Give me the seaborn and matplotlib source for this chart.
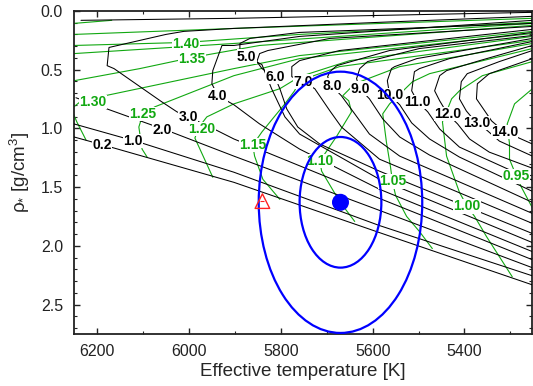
import matplotlib
matplotlib.use("Agg")
import matplotlib.pyplot as plt
import seaborn as sns
from matplotlib.patches import Ellipse
from matplotlib.ticker import MultipleLocator, FormatStrFormatter

# ---- isochrones (age in Gyr): effective temperature [K] and mean density [g/cm^3]
iso_02_teff = [5252, 5585, 5902, 6163, 6250]
iso_02_rho = [2.333, 1.888, 1.460, 1.168, 1.074]
iso_10_teff = [5252, 5585, 5902, 6102, 6250]
iso_10_rho = [2.256, 1.828, 1.374, 1.126, 0.963]
iso_20_teff = [5252, 5585, 5902, 6039, 6246]
iso_20_rho = [2.187, 1.699, 1.237, 1.031, 0.740]
iso_20_sgb_teff = [6235, 5902, 5252]
iso_20_sgb_rho = [0.081, 0.064, 0.013]
iso_30_teff = [5252, 5585, 5902, 5954, 6026, 6059, 6163, 6178, 6174, 6050, 6011, 5902, 5585, 5252]
iso_30_rho = [2.119, 1.597, 1.091, 0.989, 0.860, 0.775, 0.492, 0.467, 0.312, 0.201, 0.175, 0.150, 0.098, 0.047]
iso_40_teff = [5252, 5585, 5759, 5846, 5902, 5937, 5950, 5948, 5928, 5902, 5759, 5252]
iso_40_rho = [2.050, 1.519, 1.177, 0.963, 0.800, 0.723, 0.621, 0.509, 0.295, 0.295, 0.218, 0.081]
iso_50_teff = [5252, 5585, 5759, 5791, 5820, 5841, 5874, 5889, 5889, 5867, 5759, 5252]
iso_50_rho = [1.973, 1.434, 1.049, 0.903, 0.663, 0.458, 0.390, 0.338, 0.278, 0.235, 0.184, 0.107]
iso_60_teff = [5252, 5585, 5715, 5763, 5787, 5802, 5813, 5841, 5852, 5846, 5828, 5693, 5252]
iso_60_rho = [1.896, 1.365, 1.134, 0.989, 0.835, 0.663, 0.561, 0.492, 0.432, 0.364, 0.338, 0.235, 0.133]
iso_70_teff = [5252, 5585, 5668, 5693, 5726, 5752, 5776, 5776, 5759, 5672, 5252]
iso_70_rho = [1.810, 1.263, 0.989, 0.852, 0.663, 0.603, 0.561, 0.475, 0.424, 0.338, 0.158]
iso_80_teff = [5252, 5541, 5607, 5639, 5668, 5689, 5698, 5693, 5678, 5563, 5252]
iso_80_rho = [1.725, 1.237, 1.049, 0.877, 0.723, 0.638, 0.561, 0.518, 0.467, 0.338, 0.184]
iso_90_teff = [5252, 5476, 5541, 5578, 5607, 5628, 5635, 5628, 5611, 5498, 5252]
iso_90_rho = [1.631, 1.228, 1.074, 0.920, 0.749, 0.663, 0.578, 0.492, 0.432, 0.321, 0.210]
iso_100_teff = [5252, 5411, 5476, 5515, 5541, 5563, 5568, 5559, 5552, 5504, 5252]
iso_100_rho = [1.537, 1.245, 1.091, 0.954, 0.800, 0.715, 0.595, 0.492, 0.475, 0.407, 0.235]
iso_110_teff = [5252, 5411, 5454, 5480, 5502, 5515, 5509, 5498, 5433, 5252]
iso_110_rho = [1.442, 1.160, 1.006, 0.860, 0.775, 0.681, 0.518, 0.492, 0.407, 0.261]
iso_120_teff = [5252, 5346, 5389, 5415, 5437, 5454, 5465, 5454, 5439, 5367, 5252]
iso_120_rho = [1.340, 1.203, 1.091, 0.963, 0.877, 0.766, 0.681, 0.552, 0.509, 0.424, 0.295]
iso_130_teff = [5252, 5324, 5352, 5374, 5396, 5411, 5407, 5394, 5324, 5252]
iso_130_rho = [1.237, 1.109, 1.014, 0.954, 0.852, 0.749, 0.603, 0.535, 0.432, 0.338]
iso_140_teff = [5252, 5291, 5313, 5341, 5374, 5372, 5346, 5252]
iso_140_rho = [1.134, 1.066, 1.031, 0.937, 0.749, 0.621, 0.535, 0.407]

iso_labels = ["0.2", "1.0", "2.0", "3.0", "4.0", "5.0", "6.0", "7.0",
              "8.0", "9.0", "10.0", "11.0", "12.0", "13.0", "14.0"]
iso_label_teff = [6189, 6122, 6059, 6002, 5937, 5874, 5813, 5752,
                  5689, 5628, 5563, 5502, 5437, 5374, 5313]
iso_label_rho = [1.143, 1.109, 1.014, 0.905, 0.723, 0.390, 0.561, 0.603,
                 0.638, 0.663, 0.715, 0.775, 0.877, 0.954, 1.031]

# ---- evolutionary tracks (mass in solar units)
trk_095_teff = [5248, 5276, 5287, 5302, 5302, 5307, 5291, 5252]
trk_095_rho = [1.708, 1.502, 1.408, 1.263, 1.134, 0.963, 0.792, 0.663]
trk_100_teff = [5296, 5352, 5378, 5394, 5411, 5439, 5448, 5428, 5411, 5361, 5252]
trk_100_rho = [2.264, 1.922, 1.750, 1.665, 1.545, 1.237, 0.946, 0.749, 0.681, 0.552, 0.432]
trk_105_teff = [5470, 5498, 5526, 5550, 5557, 5561, 5570, 5578, 5563, 5513, 5476, 5252]
trk_105_rho = [2.024, 1.879, 1.750, 1.571, 1.451, 1.331, 1.117, 0.877, 0.792, 0.603, 0.535, 0.321]
trk_110_teff = [5639, 5672, 5711, 5715, 5678, 5646, 5652, 5665, 5639, 5541, 5252]
trk_110_rho = [1.793, 1.622, 1.365, 1.280, 1.066, 0.860, 0.766, 0.723, 0.621, 0.475, 0.278]
trk_115_teff = [5802, 5839, 5857, 5861, 5841, 5818, 5791, 5770, 5759, 5672, 5252]
trk_115_rho = [1.605, 1.434, 1.237, 1.143, 1.031, 0.920, 0.792, 0.681, 0.595, 0.475, 0.252]
trk_120_teff = [5948, 5987, 5978, 5961, 5902, 5802, 5759, 5650, 5252]
trk_120_rho = [1.417, 1.083, 0.989, 0.903, 0.792, 0.663, 0.561, 0.424, 0.218]
trk_125_teff = [6091, 6102, 6109, 6100, 6074, 5902, 5759, 5252]
trk_125_rho = [1.245, 1.177, 0.989, 0.877, 0.817, 0.552, 0.407, 0.193]
trk_130_teff = [6224, 6244, 6256, 6237, 6183, 5902, 5759, 5252]
trk_130_rho = [1.100, 0.946, 0.835, 0.775, 0.723, 0.492, 0.381, 0.175]
trk_135_teff = [6250, 6107, 5994, 5846, 5252]
trk_135_rho = [0.595, 0.492, 0.398, 0.295, 0.124]
trk_140_teff = [6250, 6007, 5759, 5252]
trk_140_rho = [0.295, 0.269, 0.201, 0.098]
trk_145_teff = [6250, 5902, 5252]
trk_145_rho = [0.364, 0.278, 0.107]
trk_150_teff = [6250, 5902, 5252]
trk_150_rho = [0.201, 0.150, 0.064]
trk_155_teff = [6250, 6168]
trk_155_rho = [0.107, 0.081]

trk_labels = ["0.95", "1.00", "1.05", "1.10", "1.15", "1.20", "1.25", "1.30", "1.35", "1.40"]
trk_label_teff = [5287, 5394, 5557, 5715, 5861, 5972, 6100, 6209, 5994, 6007]
trk_label_rho = [1.408, 1.665, 1.451, 1.280, 1.143, 1.005, 0.877, 0.775, 0.410, 0.285]

# ---- observed star and alternative solution
star_teff, star_rho = 5670, 1.63
star_sig_teff, star_sig_rho = 89, 0.556
sigma_levels = [1, 2]
alt_teff, alt_rho = 5840, 1.62

BLACK = "#000000"
GREEN = "#11a811"
BLUE = "#0000ff"
RED = "#ff2020"

sns.set_theme(style="ticks")
plt.rcParams["font.family"] = ["Liberation Sans", "DejaVu Sans"]
plt.rcParams["mathtext.fontset"] = "custom"
plt.rcParams["mathtext.rm"] = "Liberation Sans"
plt.rcParams["mathtext.it"] = "Liberation Sans:italic"

fig = plt.figure(figsize=(5.33, 3.86), dpi=100)
ax = fig.add_axes([0.139, 0.135, 0.860, 0.837])

isochrones = [
    (iso_02_teff, iso_02_rho), (iso_10_teff, iso_10_rho), (iso_20_teff, iso_20_rho),
    (iso_20_sgb_teff, iso_20_sgb_rho), (iso_30_teff, iso_30_rho), (iso_40_teff, iso_40_rho),
    (iso_50_teff, iso_50_rho), (iso_60_teff, iso_60_rho), (iso_70_teff, iso_70_rho),
    (iso_80_teff, iso_80_rho), (iso_90_teff, iso_90_rho), (iso_100_teff, iso_100_rho),
    (iso_110_teff, iso_110_rho), (iso_120_teff, iso_120_rho), (iso_130_teff, iso_130_rho),
    (iso_140_teff, iso_140_rho),
]
tracks = [
    (trk_095_teff, trk_095_rho), (trk_100_teff, trk_100_rho), (trk_105_teff, trk_105_rho),
    (trk_110_teff, trk_110_rho), (trk_115_teff, trk_115_rho), (trk_120_teff, trk_120_rho),
    (trk_125_teff, trk_125_rho), (trk_130_teff, trk_130_rho), (trk_135_teff, trk_135_rho),
    (trk_140_teff, trk_140_rho), (trk_145_teff, trk_145_rho), (trk_150_teff, trk_150_rho),
    (trk_155_teff, trk_155_rho),
]

for teff, rho in tracks:
    sns.lineplot(x=teff, y=rho, sort=False, estimator=None, color=GREEN, lw=0.8, ax=ax, zorder=2)
for teff, rho in isochrones:
    sns.lineplot(x=teff, y=rho, sort=False, estimator=None, color=BLACK, lw=0.75, ax=ax, zorder=3)

label_box = dict(boxstyle="square,pad=0.02", fc="white", ec="none")
for txt, t, r in zip(trk_labels, trk_label_teff, trk_label_rho):
    ax.text(t, r, txt, color=GREEN, fontsize=10, fontweight="bold",
            ha="center", va="center", bbox=label_box, zorder=4)
for txt, t, r in zip(iso_labels, iso_label_teff, iso_label_rho):
    ax.text(t, r, txt, color=BLACK, fontsize=10, fontweight="bold",
            ha="center", va="center", bbox=label_box, zorder=4)

for k in sigma_levels:
    ax.add_patch(Ellipse((star_teff, star_rho), 2 * k * star_sig_teff, 2 * k * star_sig_rho,
                         fill=False, ec=BLUE, lw=1.6, zorder=5))
sns.scatterplot(x=[star_teff], y=[star_rho], color=BLUE, s=150, edgecolor="none", ax=ax, zorder=6)
sns.scatterplot(x=[alt_teff], y=[alt_rho], marker="^", s=110, facecolor="none",
                edgecolor=RED, linewidth=1.0, ax=ax, zorder=6)
sns.scatterplot(x=[alt_teff], y=[alt_rho], marker="_", s=10, color=RED,
                linewidth=0.8, ax=ax, zorder=6)

ax.set_xlim(6250, 5252)
ax.set_ylim(2.75, 0.0)
ax.xaxis.set_major_locator(MultipleLocator(200))
ax.xaxis.set_minor_locator(MultipleLocator(100))
ax.yaxis.set_major_locator(MultipleLocator(0.5))
ax.yaxis.set_minor_locator(MultipleLocator(0.1))
ax.yaxis.set_major_formatter(FormatStrFormatter("%.1f"))
ax.tick_params(which="both", direction="in", top=True, right=True, labelsize=11.5, colors="#222222")
ax.tick_params(which="major", length=4, width=1.0, pad=7)
ax.tick_params(which="minor", length=2.5, width=0.8)
ax.tick_params(axis="y", which="major", pad=8)
for sp in ax.spines.values():
    sp.set_linewidth(1.3)
    sp.set_color("#222222")

ax.set_xlabel("Effective temperature [K]", fontsize=13.5, labelpad=3)
ax.set_ylabel(r"ρ$_{*}$ [g/cm$^3$]", fontsize=13.5, labelpad=6)

fig.savefig("out.png", dpi=100)
